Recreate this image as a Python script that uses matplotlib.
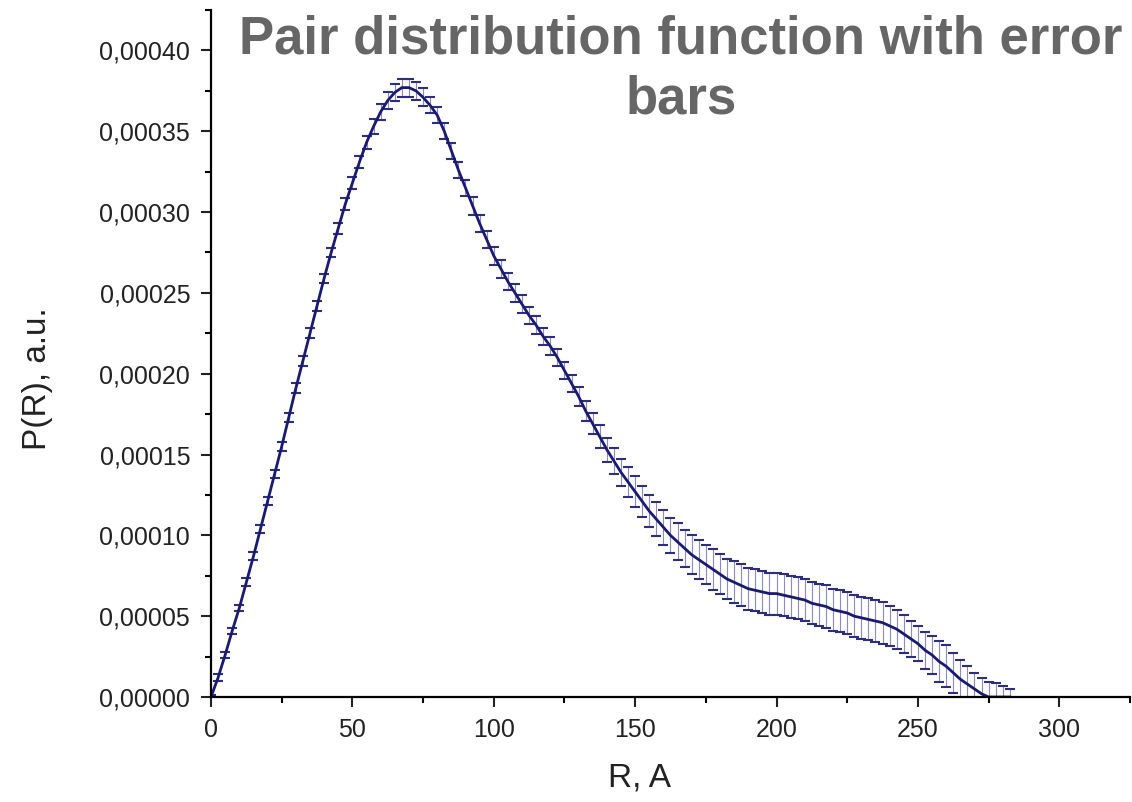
import numpy as np
import matplotlib.pyplot as plt
from matplotlib.ticker import MultipleLocator, FuncFormatter

plt.rcParams['font.family'] = ['Liberation Sans', 'DejaVu Sans']

# R grid, step 2.5 A
r = np.arange(0, 283, 2.5)

# P(R) in units of 1e-5
p_r = [
    0.0, 1.2, 2.6, 4.1, 5.5, 7.1, 8.7, 10.4, 12.1, 13.8,
    15.5, 17.3, 19.1, 20.8, 22.5, 24.2, 25.9, 27.5, 29.0, 30.5,
    31.8, 33.1, 34.3, 35.3, 36.2, 36.9, 37.4, 37.7, 37.7, 37.5,
    37.1, 36.6, 36.0, 35.0, 33.8, 32.6, 31.5, 30.4, 29.3, 28.3,
    27.3, 26.5, 25.7, 25.0, 24.3, 23.6, 23.0, 22.3, 21.7, 21.0,
    20.2, 19.4, 18.6, 17.7, 16.9, 16.1, 15.3, 14.6, 13.9, 13.3,
    12.7, 12.1, 11.5, 11.0, 10.5, 10.0, 9.6, 9.2, 8.8, 8.5,
    8.2, 7.9, 7.6, 7.3, 7.1, 6.9, 6.7, 6.6, 6.5, 6.4,
    6.4, 6.3, 6.2, 6.1, 6.0, 5.8, 5.7, 5.6, 5.4, 5.3,
    5.2, 5.0, 4.9, 4.8, 4.7, 4.6, 4.4, 4.2, 3.9, 3.6,
    3.3, 2.9, 2.6, 2.2, 1.9, 1.5, 1.1, 0.8, 0.5, 0.2,
    0.0, 0.0, 0.0, 0.0,
]

# error in units of 1e-5
err = [
    0.1, 0.2, 0.2, 0.2, 0.2, 0.25, 0.25, 0.25, 0.25, 0.25,
    0.25, 0.3, 0.3, 0.3, 0.3, 0.3, 0.3, 0.3, 0.35, 0.35,
    0.35, 0.4, 0.4, 0.45, 0.5, 0.5, 0.55, 0.55, 0.55, 0.55,
    0.55, 0.5, 0.5, 0.5, 0.5, 0.5, 0.5, 0.55, 0.55, 0.55,
    0.55, 0.55, 0.55, 0.55, 0.55, 0.55, 0.55, 0.55, 0.55, 0.55,
    0.55, 0.55, 0.6, 0.6, 0.65, 0.7, 0.75, 0.8, 0.85, 0.9,
    0.95, 0.95, 1.0, 1.05, 1.1, 1.1, 1.15, 1.15, 1.2, 1.2,
    1.2, 1.25, 1.25, 1.25, 1.3, 1.3, 1.3, 1.3, 1.3, 1.3,
    1.3, 1.3, 1.3, 1.3, 1.3, 1.3, 1.3, 1.3, 1.3, 1.3,
    1.3, 1.3, 1.3, 1.3, 1.3, 1.3, 1.25, 1.2, 1.15, 1.1,
    1.1, 1.15, 1.2, 1.25, 1.3, 1.25, 1.2, 1.1, 1.0, 0.95,
    0.9, 0.85, 0.7, 0.5,
]

p_r = np.array(p_r) * 1e-5
err = np.array(err) * 1e-5

fig = plt.figure(figsize=(11.32, 8.02), dpi=100)
ax = fig.add_axes([0.1864, 0.1309, 0.8118, 0.8566])

# stems faint, caps darker
ax.errorbar(r, p_r, yerr=err, fmt='none', ecolor='#8a8ad0', elinewidth=0.8,
            capsize=3.5, capthick=0)
ax.errorbar(r, p_r, yerr=err, fmt='none', ecolor='#2e2e80', elinewidth=0,
            capsize=3.5, capthick=1.5)
ax.plot(r, p_r, color='#1a1a70', lw=2)

ax.set_xlim(0, 325)
ax.set_ylim(0, 0.000425)

ax.spines['top'].set_visible(False)
ax.spines['right'].set_visible(False)
ax.spines['left'].set_linewidth(1.6)
ax.spines['bottom'].set_linewidth(1.6)

ax.xaxis.set_major_locator(MultipleLocator(50))
ax.xaxis.set_minor_locator(MultipleLocator(25))
ax.yaxis.set_major_locator(MultipleLocator(0.00005))
ax.yaxis.set_minor_locator(MultipleLocator(0.000025))
ax.yaxis.set_major_formatter(FuncFormatter(lambda v, pos: f"{v:.5f}".replace('.', ',')))

ax.tick_params(which='major', direction='out', length=7, width=1.5, labelsize=18,
               pad=8, colors='#222222')
ax.tick_params(which='minor', direction='out', length=4, width=1.5)

ax.set_xlabel('R, A', fontsize=24, color='#222222')
ax.xaxis.set_label_coords(0.466, -0.095)
ax.set_ylabel('P(R), a.u.', fontsize=24, color='#222222')
ax.yaxis.set_label_coords(-0.172, 0.464)

fig.text(681 / 1132, 0.982, 'Pair distribution function with error\nbars',
         ha='center', va='top', fontsize=38, fontweight='bold', color='#666666',
         linespacing=1.25)

fig.savefig('out.png', dpi=100)
